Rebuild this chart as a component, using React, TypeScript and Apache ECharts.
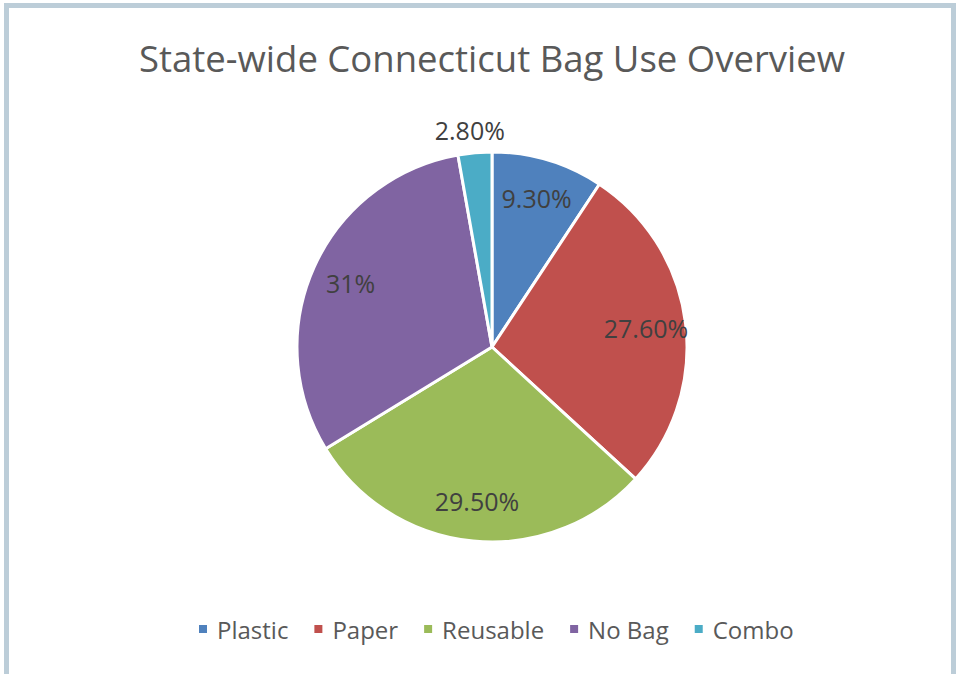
import React, { useEffect, useRef } from "react";
import * as echarts from "echarts";

const titleText = "State-wide Connecticut Bag Use Overview";
const categories = ["Plastic", "Paper", "Reusable", "No Bag", "Combo"];
const values = [9.3, 27.6, 29.5, 31, 2.8];
const valueLabels = ["9.30%", "27.60%", "29.50%", "31%", "2.80%"];
const colors = ["#4f81bd", "#c0504d", "#9bbb59", "#8064a2", "#4bacc6"];

export default function App() {
  const ref = useRef<HTMLDivElement>(null);
  useEffect(() => {
    if (!ref.current) return;
    const chart = echarts.init(ref.current, null, { renderer: "svg" });
    const font = "'Open Sans', sans-serif";
    const center = [492, 347];
    const R = 195;
    const mainData = categories.map((name, i) => ({
      name,
      value: values[i],
      itemStyle: { color: colors[i] },
      label:
        i === categories.length - 1
          ? { show: true, position: "outside" as const, distanceToLabelLine: -32 }
          : { show: false },
      labelLine: { show: false },
    }));
    const overlayData = categories.map((name, i) => ({
      name,
      value: values[i],
      label: { show: i !== categories.length - 1 },
    }));
    chart.setOption({
      animation: false,
      backgroundColor: "#ffffff",
      title: {
        text: titleText,
        left: 134,
        top: 34,
        textStyle: { fontFamily: font, fontSize: 36.5, fontWeight: "normal", color: "#595959" },
      },
      legend: {
        data: categories,
        bottom: 28,
        left: 192,
        icon: "rect",
        itemWidth: 10,
        itemHeight: 10,
        itemGap: 24,
        textStyle: { fontFamily: font, fontSize: 24, color: "#595959", padding: [0, 0, 0, 4] },
      },
      graphic: [
        {
          type: "rect",
          shape: { x: 6.5, y: 5.5, width: 947, height: 720 },
          style: { fill: "none", stroke: "#bccdd8", lineWidth: 5 },
          silent: true,
        },
      ],
      series: [
        {
          type: "pie",
          center,
          radius: [0, R],
          startAngle: 90,
          clockwise: true,
          avoidLabelOverlap: false,
          itemStyle: { borderColor: "#ffffff", borderWidth: 3 },
          label: {
            fontFamily: font,
            fontSize: 25,
            color: "#404040",
            formatter: (p: any) => valueLabels[p.dataIndex],
          },
          labelLine: { show: false, length: 23, length2: 0 },
          emphasis: { disabled: true },
          data: mainData,
        },
        {
          type: "pie",
          center,
          radius: [0, R * 1.56],
          startAngle: 90,
          clockwise: true,
          silent: true,
          z: 5,
          itemStyle: { color: "transparent", borderWidth: 0 },
          label: {
            position: "inside",
            fontFamily: font,
            fontSize: 25,
            color: "#404040",
            formatter: (p: any) => valueLabels[p.dataIndex],
          },
          labelLine: { show: false },
          emphasis: { disabled: true },
          data: overlayData,
        },
      ],
    });
    return () => chart.dispose();
  }, []);
  return (
    <div
      ref={ref}
      style={{ position: "absolute", left: 0, top: 0, width: 958, height: 674 }}
    />
  );
}
